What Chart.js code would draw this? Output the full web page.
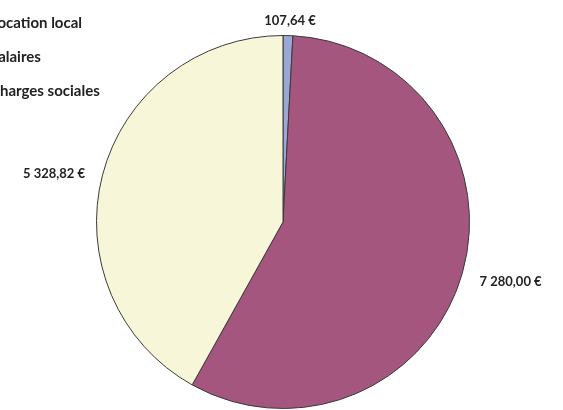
<!DOCTYPE html>
<html>
<head>
<meta charset="utf-8">
<script src="https://cdn.jsdelivr.net/npm/chart.js@4"></script>
<style>
  html, body { margin: 0; padding: 0; background: #fff; }
  #wrap { width: 563px; height: 410px; }
</style>
</head>
<body>
<div id="wrap"><canvas id="chartPie"></canvas></div>
<script>
const categorias = ["Location local", "Salaires", "Charges sociales"];
const montants = [107.64, 7280.00, 5328.82];
const etiquettes = ["107,64 €", "7 280,00 €", "5 328,82 €"];
const couleurs = ["#9ba7d6", "#a5567f", "#f8f6d9"];

// legende a gauche (coupee par le bord comme sur l'original)
const legendePlugin = {
  id: "legendeTexte",
  afterDraw(chart) {
    const ctx = chart.ctx;
    ctx.save();
    ctx.font = "bold 15px 'Lato', sans-serif";
    ctx.fillStyle = "#222";
    ctx.textBaseline = "middle";
    ctx.textAlign = "left";
    categorias.forEach((c, i) => {
      ctx.fillText(c, -10, 23 + i * 34);
    });
    ctx.restore();
  }
};

// valeurs a l'exterieur des parts
const valeursPlugin = {
  id: "valeursExt",
  afterDraw(chart) {
    const ctx = chart.ctx;
    const meta = chart.getDatasetMeta(0);
    ctx.save();
    ctx.font = "bold 13px 'Lato', sans-serif";
    ctx.fillStyle = "#222";
    ctx.textBaseline = "middle";
    meta.data.forEach((arc, i) => {
      const a = (arc.startAngle + arc.endAngle) / 2;
      const r = arc.outerRadius + 18;
      let x = arc.x + Math.cos(a) * r;
      let y = arc.y + Math.sin(a) * r + 3;
      if (i === 0) {
        ctx.textAlign = "center";
        x = arc.x + 7;
        y = arc.y - arc.outerRadius - 15;
      } else {
        ctx.textAlign = Math.cos(a) >= 0 ? "left" : "right";
      }
      ctx.fillText(etiquettes[i], x, y);
    });
    ctx.restore();
  }
};

let ctx = document.getElementById("chartPie").getContext("2d");
let graficoPie = new Chart(ctx, {
  type: "pie",
  data: {
    labels: categorias,
    datasets: [{
      data: montants,
      backgroundColor: couleurs,
      borderColor: "#3a3a3a",
      borderWidth: 1
    }]
  },
  options: {
    responsive: true,
    maintainAspectRatio: false,
    animation: false,
    layout: { padding: { top: 35, bottom: 1, left: 94, right: 91 } },
    plugins: {
      legend: { display: false },
      tooltip: { enabled: false }
    }
  },
  plugins: [legendePlugin, valeursPlugin]
});
</script>
</body>
</html>
